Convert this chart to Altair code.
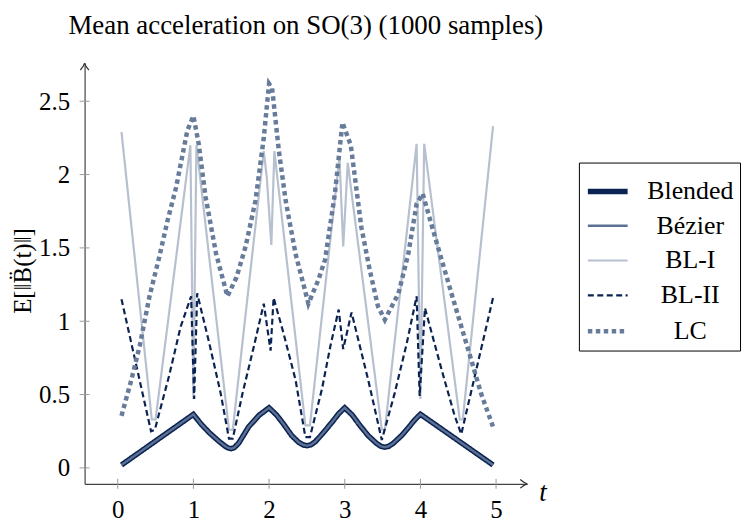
import altair as alt
import pandas as pd

FONT = "Liberation Serif"

series_names = ["Blended", "Bézier", "BL-I", "BL-II", "LC"]
series_colors = ["#0b2352", "#5b7093", "#b7c0cf", "#0b2352", "#677b9b"]
series_widths = [5.5, 2.4, 2.2, 2.2, 4.5]
series_dashes = [[1, 0], [1, 0], [1, 0], [6, 3.5], [4.5, 3.5]]

blended_t = [0.05, 1.0, 1.1, 1.21, 1.34, 1.42, 1.46, 1.5, 1.54, 1.6, 1.73, 1.87, 2.0, 2.1, 2.19,
             2.3, 2.39, 2.45, 2.5, 2.55, 2.61, 2.7, 2.83, 2.92, 3.0, 3.1, 3.2, 3.31, 3.42, 3.48,
             3.53, 3.58, 3.64, 3.75, 3.85, 3.93, 4.0, 4.96]
blended_v = [0.02, 0.365, 0.30, 0.24, 0.18, 0.148, 0.136, 0.131, 0.138, 0.17, 0.28, 0.36, 0.41,
             0.36, 0.30, 0.22, 0.175, 0.157, 0.151, 0.157, 0.178, 0.23, 0.31, 0.37, 0.41, 0.36,
             0.29, 0.22, 0.167, 0.147, 0.141, 0.147, 0.167, 0.22, 0.28, 0.33, 0.366, 0.02]
bezier_t = blended_t
bezier_v = blended_v

bl1_t = [0.05, 0.45, 0.5, 0.96, 1.0, 1.04, 1.47, 1.52, 1.93, 1.97, 2.03, 2.07, 2.48, 2.54,
         2.93, 2.98, 3.04, 3.49, 3.53, 3.95, 4.0, 4.05, 4.52, 4.56, 4.96]
bl1_v = [2.29, 0.33, 0.33, 2.20, 0.47, 2.20, 0.26, 0.26, 2.16, 1.98, 1.52, 2.16, 0.29, 0.29,
         2.12, 1.51, 2.08, 0.26, 0.26, 2.21, 0.47, 2.21, 0.33, 0.33, 2.33]

bl2_t = [0.05, 0.44, 0.49, 0.68, 0.83, 0.97, 1.01, 1.05, 1.21, 1.36, 1.47, 1.52, 1.65, 1.8,
         1.93, 2.02, 2.06, 2.19, 2.35, 2.48, 2.54, 2.7, 2.81, 2.92, 2.98, 3.09, 3.31, 3.49,
         3.66, 3.82, 3.95, 3.99, 4.06, 4.28, 4.45, 4.54, 4.96]
bl2_v = [1.15, 0.25, 0.26, 0.63, 0.96, 1.17, 0.47, 1.19, 0.85, 0.51, 0.20, 0.20, 0.51, 0.83,
         1.12, 0.80, 1.16, 0.92, 0.60, 0.21, 0.21, 0.54, 0.83, 1.08, 0.81, 1.06, 0.60, 0.19,
         0.51, 0.85, 1.17, 0.49, 1.09, 0.67, 0.36, 0.23, 1.16]

lc_t = [0.05, 0.18, 0.29, 0.42, 0.55, 0.66, 0.77, 0.92, 1.0, 1.07, 1.16, 1.3, 1.45, 1.57,
        1.69, 1.82, 1.93, 2.0, 2.04, 2.13, 2.22, 2.35, 2.52, 2.65, 2.74, 2.87, 2.97, 3.08,
        3.13, 3.22, 3.33, 3.44, 3.53, 3.71, 3.84, 3.95, 4.03, 4.14, 4.28, 4.41, 4.54, 4.67,
        4.8, 4.96]
lc_v = [0.355, 0.60, 0.83, 1.17, 1.44, 1.69, 1.91, 2.30, 2.40, 2.21, 1.85, 1.46, 1.17, 1.30,
        1.51, 1.82, 2.25, 2.62, 2.59, 2.16, 1.82, 1.46, 1.12, 1.28, 1.42, 1.87, 2.355, 2.2,
        2.0, 1.64, 1.35, 1.10, 1.01, 1.19, 1.46, 1.80, 1.87, 1.67, 1.42, 1.19, 0.965, 0.74,
        0.51, 0.28]

x_ticks = [0, 1, 2, 3, 4, 5]
y_ticks = [0, 0.5, 1, 1.5, 2, 2.5]
x_domain = [-0.438, 5.411]
y_domain = [-0.1085, 2.76]

title_text = "Mean acceleration on SO(3) (1000 samples)"
y_title = "E[‖B̈(t)‖]"

W, H = 445, 423

rows = []
for name, ts, vs in [("Blended", blended_t, blended_v), ("Bézier", bezier_t, bezier_v),
                     ("BL-I", bl1_t, bl1_v), ("BL-II", bl2_t, bl2_v), ("LC", lc_t, lc_v)]:
    for t, v in zip(ts, vs):
        rows.append({"series": name, "t": t, "v": v})
df = pd.DataFrame(rows)

xscale = alt.Scale(domain=x_domain, nice=False, zero=False)
yscale = alt.Scale(domain=y_domain, nice=False, zero=False)

legend = alt.Legend(orient="none", legendX=497, legendY=100, title=None,
                    symbolType="stroke", symbolSize=1600, labelFont=FONT, labelFontSize=26,
                    labelColor="black", labelAlign="center", labelOffset=60, padding=6,
                    rowPadding=0, strokeColor="black", fillColor="white", labelLimit=300)

xaxis = alt.Axis(values=x_ticks, ticks=False, grid=False, domainColor="#444", domainWidth=1.2,
                 labelFont=FONT, labelFontSize=25, labelColor="black", labelPadding=14,
                 format="d", labelOverlap=False, labelFlush=False)
yaxis = alt.Axis(values=y_ticks, ticks=False, grid=False, domainColor="#444", domainWidth=1.2,
                 labelFont=FONT, labelFontSize=25, labelColor="black", labelPadding=15,
                 format="~g", labelOverlap=False, labelFlush=False,
                 titleFont=FONT, titleFontSize=25, titleFontWeight="normal", titleColor="black",
                 titleX=-62, titleY=H / 2 - 3, titleBaseline="middle", titleAngle=270,
                 titleAlign="center")

lines = alt.Chart(df).mark_line(clip=False).encode(
    x=alt.X("t:Q", scale=xscale, axis=xaxis, title=None),
    y=alt.Y("v:Q", scale=yscale, axis=yaxis, title=y_title),
    color=alt.Color("series:N", scale=alt.Scale(domain=series_names, range=series_colors),
                    legend=legend, sort=series_names),
    strokeWidth=alt.StrokeWidth("series:N",
                                scale=alt.Scale(type="ordinal", domain=series_names, range=series_widths),
                                legend=legend, sort=series_names),
    strokeDash=alt.StrokeDash("series:N", scale=alt.Scale(domain=series_names, range=series_dashes),
                              legend=legend, sort=series_names),
    detail="series:N",
)

ytick_rules = alt.Chart(pd.DataFrame({"v": y_ticks})).mark_rule(color="#9a9a9a", strokeWidth=1).encode(
    y=alt.Y("v:Q", scale=yscale, title=y_title),
    x=alt.value(-5), x2=alt.value(5),
)
xtick_rules = alt.Chart(pd.DataFrame({"t": x_ticks})).mark_rule(color="#9a9a9a", strokeWidth=1).encode(
    x=alt.X("t:Q", scale=xscale, title=None),
    y=alt.value(H - 5), y2=alt.value(H + 5),
)

CHEVRON = "M-1,-0.62 Q-0.4,-0.1 0,0 Q-0.4,0.1 -1,0.62"
one = pd.DataFrame({"a": [0]})
x_arrow = alt.Chart(one).mark_point(shape=CHEVRON, size=196, filled=False, color="#333",
                                    strokeWidth=1.2, opacity=1).encode(
    x=alt.value(W), y=alt.value(H))
y_arrow = alt.Chart(one).mark_point(shape=CHEVRON, size=196, filled=False, color="#333",
                                    strokeWidth=1.2, opacity=1, angle=270).encode(
    x=alt.value(0), y=alt.value(0))

t_label = alt.Chart(one).mark_text(text="t", font=FONT, fontSize=27, fontStyle="italic",
                                   color="black", align="center", baseline="middle").encode(
    x=alt.value(W + 16), y=alt.value(H + 9))
title = alt.Chart(one).mark_text(text=title_text, font=FONT, fontSize=27, color="black",
                                 align="center", baseline="alphabetic").encode(
    x=alt.value(W / 2), y=alt.value(-29))

chart = alt.layer(lines, ytick_rules, xtick_rules, x_arrow, y_arrow, t_label, title).properties(
    width=W, height=H,
    padding={"left": 77, "top": 54, "right": 740 - 77 - W, "bottom": 516 - 54 - H},
    autosize=alt.AutoSizeParams(type="none"),
).configure_view(stroke=None)

chart.save("out.html", embed_options={"renderer": "svg", "actions": False})
